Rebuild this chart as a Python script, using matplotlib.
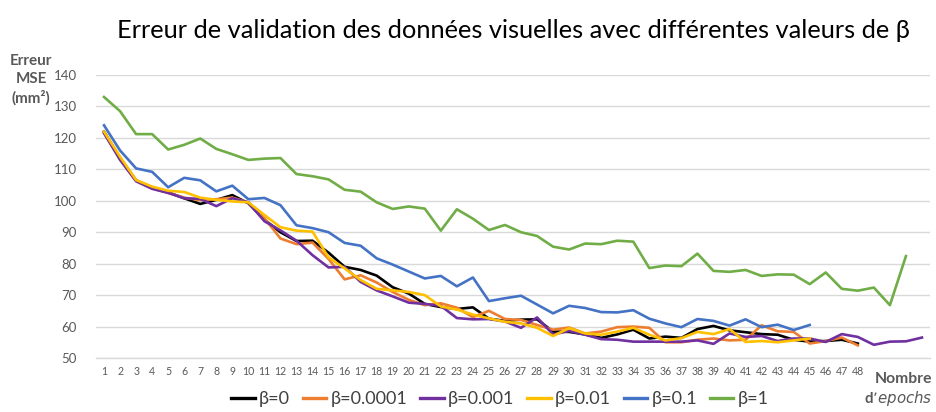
import matplotlib
matplotlib.use("Agg")
import matplotlib.pyplot as plt

plt.rcParams['font.family'] = ['Lato', 'DejaVu Sans']

# Validation MSE per epoch for each beta value
beta_0 = [122, 113.5, 106.5, 104.2, 102.7, 100.8, 99, 100.3, 101.8, 99.2,
          94, 90, 87.2, 87.3, 83.5, 79, 78, 76.2, 72.5, 70.5,
          67.2, 66.2, 65.6, 66.1, 62.5, 61.8, 62.2, 62.3, 58.4, 58.3,
          57.5, 56.4, 57.5, 59, 56.2, 56.8, 56.4, 59.2, 60.2, 58.8,
          58.2, 57.6, 57.4, 55.8, 55.2, 55.4, 55.8, 54.6]
beta_1e4 = [121.5, 113.5, 106.5, 104, 102.5, 101, 100.2, 100.5, 101, 99.5,
            94.5, 88, 86.2, 86.7, 81.5, 75, 76.3, 74, 71, 68.5,
            66.8, 67.4, 66, 63, 65, 62.4, 62.1, 60.5, 59, 59.7,
            57.8, 58.4, 59.8, 60, 59.6, 55, 55, 55.8, 56.2, 55.6,
            55.8, 60.4, 58.5, 58.3, 54.6, 55.4, 56.5, 54]
beta_1e3 = [121.5, 113, 106.2, 103.8, 102.5, 100.8, 100.6, 98.3, 100.8, 99.5,
            93.5, 90.6, 87.3, 82.7, 78.8, 79, 74.2, 71.5, 69.6, 67.6,
            67.2, 66.6, 62.7, 62.3, 62.4, 61.6, 59.6, 62.9, 57.5, 58.6,
            57.4, 56, 55.8, 55.2, 55.2, 55.2, 55.2, 55.6, 54.5, 57.8,
            56.7, 57, 55.4, 56.2, 56.2, 55.1, 57.6, 56.7, 54.2, 55.2,
            55.3, 56.5]
beta_1e2 = [122, 114, 106.6, 104.5, 103.2, 102.8, 101, 100.3, 99.8, 99.5,
            95.5, 91.6, 90.5, 90.2, 82, 78.5, 74.8, 72, 71.5, 71,
            70, 66.4, 65.4, 63.8, 62.6, 61.5, 61, 59.6, 57, 59.5,
            57.8, 57.4, 58.4, 59.6, 57.4, 55.6, 56.3, 58.3, 57.6, 59.2,
            55.1, 55.4, 55, 55.6, 56.2]
beta_1e1 = [124, 116, 110.3, 109.2, 104.3, 107.3, 106.5, 103, 104.8, 100.5,
            100.9, 98.6, 92.2, 91.3, 90, 86.6, 85.7, 81.7, 79.7, 77.5,
            75.3, 76.1, 72.8, 75.6, 68.1, 69, 69.8, 67, 64.2, 66.6,
            65.9, 64.6, 64.5, 65.2, 62.5, 61, 59.8, 62.4, 61.8, 60.3,
            62.3, 59.8, 60.6, 58.9, 60.5]
beta_1 = [133, 128.5, 121.2, 121.2, 116.3, 117.8, 119.8, 116.5, 114.8, 113,
          113.4, 113.6, 108.5, 107.8, 106.8, 103.5, 102.9, 99.5, 97.4, 98.2,
          97.5, 90.5, 97.3, 94.3, 90.7, 92.3, 90, 88.8, 85.4, 84.5,
          86.4, 86.2, 87.3, 87, 78.6, 79.4, 79.2, 83.2, 77.7, 77.4,
          78, 76.1, 76.6, 76.5, 73.5, 77.2, 72, 71.4, 72.4, 66.8,
          82.4]

series_labels = ["β=0", "β=0.0001", "β=0.001", "β=0.01", "β=0.1", "β=1"]
series_values = [beta_0, beta_1e4, beta_1e3, beta_1e2, beta_1e1, beta_1]
series_colors = ["#000000", "#ED7D31", "#7030A0", "#FFC000", "#4472C4", "#70AD47"]

tick_labels = [str(i) for i in range(1, 49)]
y_ticks = list(range(50, 141, 10))

fig = plt.figure(figsize=(9.37, 4.12), dpi=100)
ax = fig.add_axes([96 / 937, 54 / 412, (930 - 96) / 937, 283 / 412])

for vals, lab, col in zip(series_values, series_labels, series_colors):
    xs = list(range(1, len(vals) + 1))
    ax.plot(xs, vals, color=col, lw=1.9, label=lab, solid_joinstyle='round')

ax.set_xlim(0.5, 52.5)
ax.set_ylim(50, 140)
ax.set_yticks(y_ticks)
ax.set_xticks(range(1, 49))
ax.set_xticklabels(tick_labels, fontsize=7.6, color="#595959")
ax.tick_params(axis='y', labelsize=9.5, labelcolor="#595959", length=0, pad=14)
ax.tick_params(axis='x', length=0, pad=6)
ax.grid(axis='y', color="#d9d9d9", lw=1)
ax.set_axisbelow(True)
for s in ["top", "right", "left"]:
    ax.spines[s].set_visible(False)
ax.spines["bottom"].set_color("#d9d9d9")
ax.spines["bottom"].set_linewidth(1)

fig.text(513 / 937, 0.925, "Erreur de validation des données visuelles avec différentes valeurs de β",
         ha="center", va="center", fontsize=18.3, color="#000000")

fig.text(31 / 937, 1 - 80 / 412, "Erreur\nMSE\n(mm²)", ha="center", va="center",
         fontsize=11, fontweight="bold", color="#595959", linespacing=1.35)

fig.text(932 / 937, 1 - 379 / 412, "Nombre", ha="right", va="center",
         fontsize=11.3, fontweight="bold", color="#595959")
fig.text(932 / 937, 1 - 399 / 412, "d’$\\mathbf{\\it{epochs}}$", ha="right", va="center",
         fontsize=10.8, fontweight="bold", color="#595959")

leg = fig.legend(loc="center", bbox_to_anchor=(500 / 937, 1 - 399 / 412), ncol=6,
                 frameon=False, fontsize=13, handlelength=1.3, handletextpad=0.25,
                 columnspacing=0.7, labelcolor="#404040")
for h in leg.get_lines():
    h.set_linewidth(2.4)

fig.savefig("out.png", dpi=100)
